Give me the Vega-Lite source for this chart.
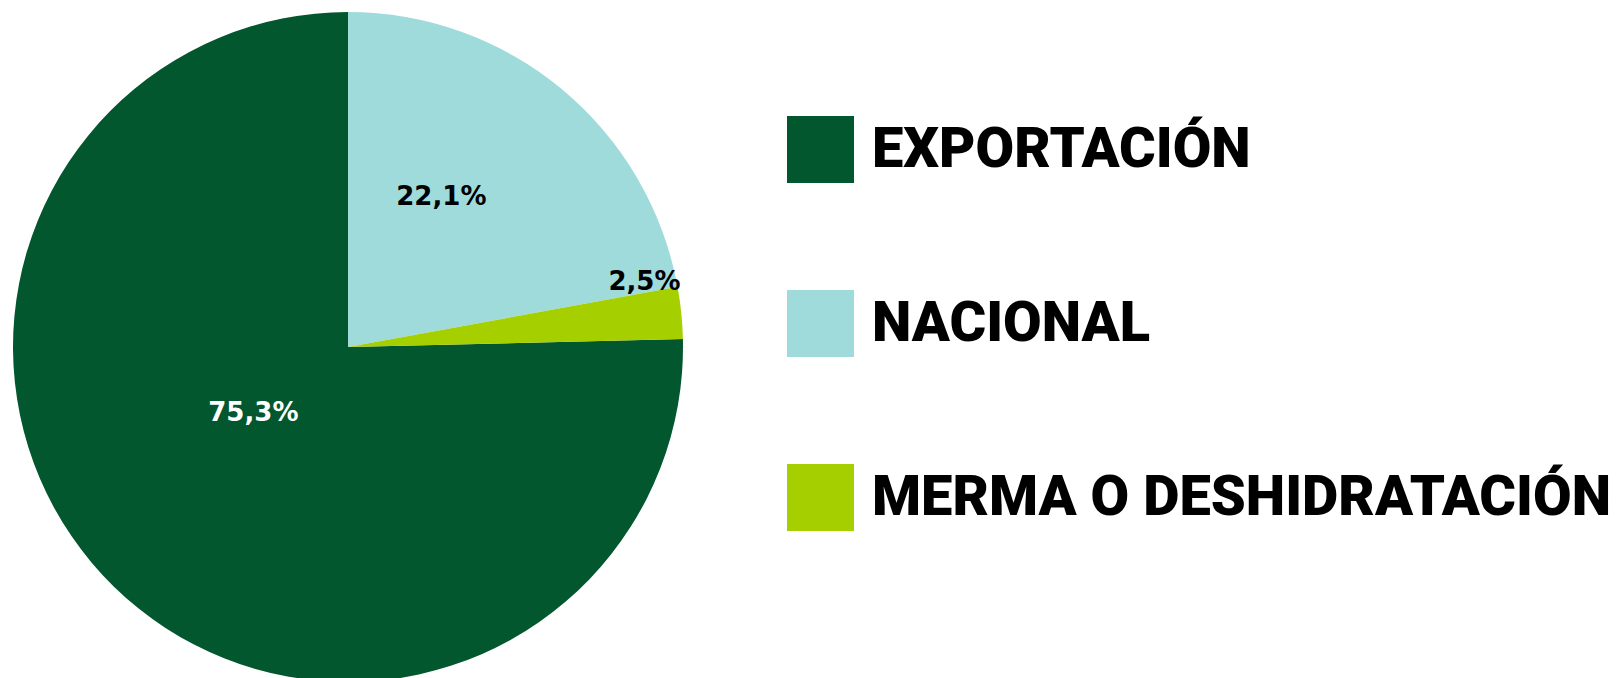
{
  "$schema": "https://vega.github.io/schema/vega-lite/v6.json",
  "width": 696,
  "height": 694,
  "padding": 0,
  "background": "white",
  "config": {"view": {"stroke": null}},
  "data": {
    "values": [
      {"destino": "EXPORTACIÓN", "porcentaje": 75.3, "etiqueta": "75,3%", "orden": 3},
      {"destino": "NACIONAL", "porcentaje": 22.1, "etiqueta": "22,1%", "orden": 1},
      {"destino": "MERMA O DESHIDRATACIÓN", "porcentaje": 2.5, "etiqueta": "2,5%", "orden": 2}
    ]
  },
  "encoding": {
    "theta": {"field": "porcentaje", "type": "quantitative", "stack": true},
    "order": {"field": "orden", "type": "quantitative"}
  },
  "layer": [
    {
      "mark": {"type": "arc", "outerRadius": 335, "strokeWidth": 0},
      "encoding": {
        "color": {
          "field": "destino",
          "type": "nominal",
          "scale": {
            "domain": ["EXPORTACIÓN", "NACIONAL", "MERMA O DESHIDRATACIÓN"],
            "range": ["#02572E", "#9FDBDB", "#A6CF00"]
          },
          "legend": {
            "title": null,
            "orient": "none",
            "legendX": 787,
            "legendY": 116,
            "padding": 0,
            "symbolType": "square",
            "symbolSize": 4489,
            "symbolStrokeWidth": 0,
            "symbolOpacity": 1,
            "labelFont": "Roboto",
            "labelFontWeight": 900,
            "labelFontSize": 56,
            "labelColor": "black",
            "labelOffset": 18,
            "labelLimit": 0,
            "rowPadding": 107
          }
        }
      }
    },
    {
      "mark": {"type": "text", "radius": 177, "dx": -20, "dy": -14, "font": "DejaVu Sans", "fontWeight": "bold", "fontSize": 26, "color": "black", "align": "center", "baseline": "middle"},
      "encoding": {
        "text": {"condition": {"test": "datum.orden == 1", "field": "etiqueta"}, "value": ""}
      }
    },
    {
      "mark": {"type": "text", "radius": 300, "dx": -2, "dy": -34, "font": "DejaVu Sans", "fontWeight": "bold", "fontSize": 26, "color": "black", "align": "center", "baseline": "middle"},
      "encoding": {
        "text": {"condition": {"test": "datum.orden == 2", "field": "etiqueta"}, "value": ""}
      }
    },
    {
      "mark": {"type": "text", "radius": 114, "dx": -15, "dy": -16, "font": "DejaVu Sans", "fontWeight": "bold", "fontSize": 26, "color": "white", "align": "center", "baseline": "middle"},
      "encoding": {
        "text": {"condition": {"test": "datum.orden == 3", "field": "etiqueta"}, "value": ""}
      }
    }
  ]
}
